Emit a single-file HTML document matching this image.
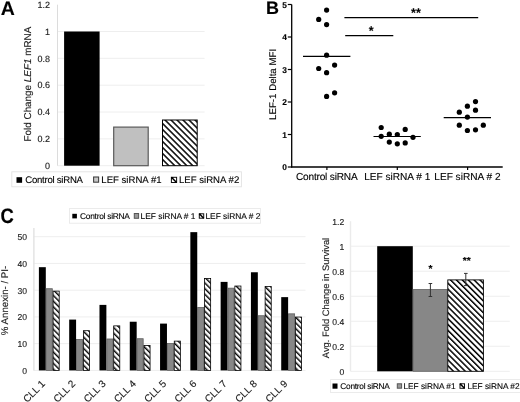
<!DOCTYPE html><html><head><meta charset="utf-8"><style>html,body{margin:0;padding:0;background:#fff;width:520px;height:402px;overflow:hidden}svg{display:block;will-change:transform}text{font-family:"Liberation Sans",sans-serif;text-rendering:geometricPrecision;stroke:#000;stroke-width:0.2px;stroke-opacity:0.6}</style></head><body>
<svg width="520" height="402" viewBox="0 0 520 402">
<defs>
<pattern id="hA" patternUnits="userSpaceOnUse" width="4.24" height="10" patternTransform="translate(2,0) rotate(-45)"><rect x="0" y="0" width="1.5" height="10" fill="#000"/></pattern>
<pattern id="hC" patternUnits="userSpaceOnUse" width="4.0" height="10" patternTransform="rotate(-45)"><rect x="0" y="0" width="1.45" height="10" fill="#000"/></pattern>
<pattern id="hD" patternUnits="userSpaceOnUse" width="4.17" height="10" patternTransform="translate(-1.5,0) rotate(-45)"><rect x="0" y="0" width="1.5" height="10" fill="#000"/></pattern>
<pattern id="hL" patternUnits="userSpaceOnUse" width="2.2" height="10" patternTransform="rotate(-45)"><rect x="0" y="0" width="1.1" height="10" fill="#000"/></pattern>
</defs>
<text x="0.7" y="14.6" font-size="19.5" font-weight="bold" fill="#000">A</text>
<line x1="57.5" y1="165.7" x2="204.6" y2="165.7" stroke="#eeeeee" stroke-width="1"/>
<text x="50" y="168.9" font-size="9" fill="#262626" text-anchor="end">0</text>
<line x1="57.5" y1="138.86" x2="204.6" y2="138.86" stroke="#eeeeee" stroke-width="1"/>
<text x="50" y="142.06" font-size="9" fill="#262626" text-anchor="end">0.2</text>
<line x1="57.5" y1="112.02" x2="204.6" y2="112.02" stroke="#eeeeee" stroke-width="1"/>
<text x="50" y="115.22" font-size="9" fill="#262626" text-anchor="end">0.4</text>
<line x1="57.5" y1="85.18" x2="204.6" y2="85.18" stroke="#eeeeee" stroke-width="1"/>
<text x="50" y="88.38" font-size="9" fill="#262626" text-anchor="end">0.6</text>
<line x1="57.5" y1="58.34" x2="204.6" y2="58.34" stroke="#eeeeee" stroke-width="1"/>
<text x="50" y="61.54" font-size="9" fill="#262626" text-anchor="end">0.8</text>
<line x1="57.5" y1="31.5" x2="204.6" y2="31.5" stroke="#eeeeee" stroke-width="1"/>
<text x="50" y="34.7" font-size="9" fill="#262626" text-anchor="end">1</text>
<text x="50" y="7.86" font-size="9" fill="#262626" text-anchor="end">1.2</text>
<line x1="57.5" y1="4.7" x2="57.5" y2="165.7" stroke="#dcdcdc" stroke-width="1"/>
<rect x="64.1" y="31.5" width="35.5" height="134.2" fill="#000"/>
<rect x="113.7" y="127.1" width="34.5" height="38.6" fill="#c0c0c0" stroke="#5a5a5a" stroke-width="1.2"/>
<rect x="162.5" y="120" width="34.7" height="45.7" fill="#fff"/>
<rect x="162.5" y="120" width="34.7" height="45.7" fill="url(#hA)" stroke="#000" stroke-width="1"/>
<text transform="translate(30.8,84.1) rotate(-90)" font-size="9.9" fill="#262626" text-anchor="middle">Fold Change <tspan font-style="italic">LEF1</tspan> mRNA</text>
<rect x="11.8" y="171.8" width="229.6" height="15" fill="none" stroke="#e2e2e2" stroke-width="0.9"/>
<rect x="16.5" y="177.2" width="5.6" height="5.6" fill="#000"/>
<text x="25.3" y="182.8" font-size="9.6" letter-spacing="-0.26" fill="#000">Control siRNA</text>
<rect x="93.6" y="177" width="5" height="5.2" fill="#c8c8c8" stroke="#444" stroke-width="1.1"/>
<text x="101.3" y="182.8" font-size="9.6" fill="#000">LEF siRNA #1</text>
<rect x="171.4" y="177.3" width="5.2" height="5.2" fill="#fff" stroke="#111" stroke-width="1"/>
<path d="M171.4 177.3 L176.6 182.5" stroke="#000" stroke-width="1.5"/>
<path d="M171.4 177.3 L173.74 177.3 L171.4 179.64000000000001 Z" fill="#000"/>
<text x="179" y="182.8" font-size="9.6" fill="#000">LEF siRNA #2</text>
<text x="265.9" y="13.9" font-size="18" font-weight="bold" fill="#000">B</text>
<line x1="287.8" y1="167" x2="291.7" y2="167" stroke="#000" stroke-width="1.2"/>
<text x="287" y="170.3" font-size="8.4" font-weight="bold" fill="#000" text-anchor="end">0</text>
<line x1="287.8" y1="134.5" x2="291.7" y2="134.5" stroke="#000" stroke-width="1.2"/>
<text x="287" y="137.8" font-size="8.4" font-weight="bold" fill="#000" text-anchor="end">1</text>
<line x1="287.8" y1="102" x2="291.7" y2="102" stroke="#000" stroke-width="1.2"/>
<text x="287" y="105.3" font-size="8.4" font-weight="bold" fill="#000" text-anchor="end">2</text>
<line x1="287.8" y1="69.5" x2="291.7" y2="69.5" stroke="#000" stroke-width="1.2"/>
<text x="287" y="72.8" font-size="8.4" font-weight="bold" fill="#000" text-anchor="end">3</text>
<line x1="287.8" y1="37" x2="291.7" y2="37" stroke="#000" stroke-width="1.2"/>
<text x="287" y="40.3" font-size="8.4" font-weight="bold" fill="#000" text-anchor="end">4</text>
<line x1="287.8" y1="4.5" x2="291.7" y2="4.5" stroke="#000" stroke-width="1.2"/>
<text x="287" y="7.8" font-size="8.4" font-weight="bold" fill="#000" text-anchor="end">5</text>
<line x1="291.7" y1="4.5" x2="291.7" y2="167.6" stroke="#000" stroke-width="1.3"/>
<line x1="291.1" y1="167.0" x2="502.7" y2="167.0" stroke="#000" stroke-width="1.3"/>
<line x1="326.9" y1="167.0" x2="326.9" y2="170.0" stroke="#000" stroke-width="1.2"/>
<line x1="397.3" y1="167.0" x2="397.3" y2="170.0" stroke="#000" stroke-width="1.2"/>
<line x1="467.6" y1="167.0" x2="467.6" y2="170.0" stroke="#000" stroke-width="1.2"/>
<text x="326.7" y="179.9" font-size="10.1" letter-spacing="-0.19" fill="#000" text-anchor="middle">Control siRNA</text>
<text x="397.3" y="179.9" font-size="10.1" fill="#000" text-anchor="middle">LEF siRNA # 1</text>
<text x="467.4" y="179.9" font-size="10.1" fill="#000" text-anchor="middle">LEF siRNA # 2</text>
<text transform="translate(276.4,84.4) rotate(-90)" font-size="9.7" fill="#000" text-anchor="middle">LEF-1 Delta MFI</text>
<circle cx="326.6" cy="10.1" r="2.6" fill="#000"/>
<circle cx="318.7" cy="19.4" r="2.6" fill="#000"/>
<circle cx="326.6" cy="24.6" r="2.6" fill="#000"/>
<circle cx="326.6" cy="55.2" r="2.6" fill="#000"/>
<circle cx="334.6" cy="65.1" r="2.6" fill="#000"/>
<circle cx="318.7" cy="68.5" r="2.6" fill="#000"/>
<circle cx="326.6" cy="72.7" r="2.6" fill="#000"/>
<circle cx="334.6" cy="92.8" r="2.6" fill="#000"/>
<circle cx="326.6" cy="96.4" r="2.6" fill="#000"/>
<circle cx="381.2" cy="127.5" r="2.6" fill="#000"/>
<circle cx="381.2" cy="136.3" r="2.6" fill="#000"/>
<circle cx="389.3" cy="134.2" r="2.6" fill="#000"/>
<circle cx="397.3" cy="134.5" r="2.6" fill="#000"/>
<circle cx="405.2" cy="129.4" r="2.6" fill="#000"/>
<circle cx="413" cy="137.3" r="2.6" fill="#000"/>
<circle cx="389.3" cy="142.1" r="2.6" fill="#000"/>
<circle cx="397.3" cy="143.8" r="2.6" fill="#000"/>
<circle cx="405.2" cy="142.9" r="2.6" fill="#000"/>
<circle cx="475.5" cy="101.6" r="2.6" fill="#000"/>
<circle cx="467.4" cy="106.2" r="2.6" fill="#000"/>
<circle cx="475.5" cy="110.2" r="2.6" fill="#000"/>
<circle cx="459.3" cy="112.2" r="2.6" fill="#000"/>
<circle cx="467.4" cy="117.1" r="2.6" fill="#000"/>
<circle cx="459.3" cy="125.2" r="2.6" fill="#000"/>
<circle cx="483.3" cy="125.2" r="2.6" fill="#000"/>
<circle cx="467.4" cy="130.5" r="2.6" fill="#000"/>
<circle cx="475.5" cy="129.8" r="2.6" fill="#000"/>
<line x1="303" y1="56.4" x2="350.4" y2="56.4" stroke="#000" stroke-width="1.2"/>
<line x1="373.5" y1="136.5" x2="420.8" y2="136.5" stroke="#000" stroke-width="1.2"/>
<line x1="443.7" y1="117.6" x2="491" y2="117.6" stroke="#000" stroke-width="1.2"/>
<line x1="344.4" y1="17.7" x2="478.2" y2="17.7" stroke="#000" stroke-width="1.2"/>
<line x1="345.2" y1="35.6" x2="393.3" y2="35.6" stroke="#000" stroke-width="1.2"/>
<text x="371.2" y="35" font-size="12.6" font-weight="bold" fill="#000" text-anchor="middle">*</text>
<text x="416" y="16.9" font-size="12.6" font-weight="bold" fill="#000" text-anchor="middle">**</text>
<text transform="translate(0.4,222.8) scale(0.97,1.1)" font-size="19" font-weight="bold" fill="#000">C</text>
<line x1="33.7" y1="370.4" x2="305.5" y2="370.4" stroke="#eeeeee" stroke-width="1"/>
<text x="27" y="373.9" font-size="8.6" fill="#262626" text-anchor="end">0</text>
<line x1="33.7" y1="343.66" x2="305.5" y2="343.66" stroke="#eeeeee" stroke-width="1"/>
<text x="27" y="347.16" font-size="8.6" fill="#262626" text-anchor="end">10</text>
<line x1="33.7" y1="316.92" x2="305.5" y2="316.92" stroke="#eeeeee" stroke-width="1"/>
<text x="27" y="320.42" font-size="8.6" fill="#262626" text-anchor="end">20</text>
<line x1="33.7" y1="290.18" x2="305.5" y2="290.18" stroke="#eeeeee" stroke-width="1"/>
<text x="27" y="293.68" font-size="8.6" fill="#262626" text-anchor="end">30</text>
<line x1="33.7" y1="263.44" x2="305.5" y2="263.44" stroke="#eeeeee" stroke-width="1"/>
<text x="27" y="266.94" font-size="8.6" fill="#262626" text-anchor="end">40</text>
<line x1="33.7" y1="236.7" x2="305.5" y2="236.7" stroke="#eeeeee" stroke-width="1"/>
<text x="27" y="240.2" font-size="8.6" fill="#262626" text-anchor="end">50</text>
<line x1="33.9" y1="228" x2="33.9" y2="370.4" stroke="#e2e2e2" stroke-width="1.4"/>
<rect x="38.9" y="267.18" width="6.9" height="103.22" fill="#000"/>
<rect x="46.2" y="288.71" width="6.1000000000000005" height="81.69" fill="#878787" stroke="#5f5f5f" stroke-width="0.8"/>
<rect x="53.1" y="291.11" width="6.1000000000000005" height="79.29" fill="#fff"/>
<rect x="53.1" y="291.11" width="6.1000000000000005" height="79.29" fill="url(#hC)" stroke="#000" stroke-width="0.8"/>
<text transform="translate(45.75,384.4) rotate(-45)" font-size="10" fill="#262626" text-anchor="end">CLL 1</text>
<rect x="69.19" y="319.59" width="6.9" height="50.81" fill="#000"/>
<rect x="76.49" y="339.51" width="6.1000000000000005" height="30.89" fill="#878787" stroke="#5f5f5f" stroke-width="0.8"/>
<rect x="83.39" y="330.69" width="6.1000000000000005" height="39.71" fill="#fff"/>
<rect x="83.39" y="330.69" width="6.1000000000000005" height="39.71" fill="url(#hC)" stroke="#000" stroke-width="0.8"/>
<text transform="translate(76.04,384.4) rotate(-45)" font-size="10" fill="#262626" text-anchor="end">CLL 2</text>
<rect x="99.48" y="304.89" width="6.9" height="65.51" fill="#000"/>
<rect x="106.78" y="338.98" width="6.1000000000000005" height="31.42" fill="#878787" stroke="#5f5f5f" stroke-width="0.8"/>
<rect x="113.68" y="325.88" width="6.1000000000000005" height="44.52" fill="#fff"/>
<rect x="113.68" y="325.88" width="6.1000000000000005" height="44.52" fill="url(#hC)" stroke="#000" stroke-width="0.8"/>
<text transform="translate(106.33,384.4) rotate(-45)" font-size="10" fill="#262626" text-anchor="end">CLL 3</text>
<rect x="129.77" y="321.73" width="6.9" height="48.67" fill="#000"/>
<rect x="137.07" y="338.71" width="6.1000000000000005" height="31.69" fill="#878787" stroke="#5f5f5f" stroke-width="0.8"/>
<rect x="143.97" y="345.4" width="6.1000000000000005" height="25" fill="#fff"/>
<rect x="143.97" y="345.4" width="6.1000000000000005" height="25" fill="url(#hC)" stroke="#000" stroke-width="0.8"/>
<text transform="translate(136.62,384.4) rotate(-45)" font-size="10" fill="#262626" text-anchor="end">CLL 4</text>
<rect x="160.06" y="323.6" width="6.9" height="46.8" fill="#000"/>
<rect x="167.36" y="343.53" width="6.1000000000000005" height="26.87" fill="#878787" stroke="#5f5f5f" stroke-width="0.8"/>
<rect x="174.26" y="341.12" width="6.1000000000000005" height="29.28" fill="#fff"/>
<rect x="174.26" y="341.12" width="6.1000000000000005" height="29.28" fill="url(#hC)" stroke="#000" stroke-width="0.8"/>
<text transform="translate(166.91,384.4) rotate(-45)" font-size="10" fill="#262626" text-anchor="end">CLL 5</text>
<rect x="190.35" y="232.15" width="6.9" height="138.25" fill="#000"/>
<rect x="197.65" y="307.43" width="6.1000000000000005" height="62.97" fill="#878787" stroke="#5f5f5f" stroke-width="0.8"/>
<rect x="204.55" y="278.55" width="6.1000000000000005" height="91.85" fill="#fff"/>
<rect x="204.55" y="278.55" width="6.1000000000000005" height="91.85" fill="url(#hC)" stroke="#000" stroke-width="0.8"/>
<text transform="translate(197.2,384.4) rotate(-45)" font-size="10" fill="#262626" text-anchor="end">CLL 6</text>
<rect x="220.64" y="281.89" width="6.9" height="88.51" fill="#000"/>
<rect x="227.94" y="288.17" width="6.1000000000000005" height="82.23" fill="#878787" stroke="#5f5f5f" stroke-width="0.8"/>
<rect x="234.84" y="286.03" width="6.1000000000000005" height="84.37" fill="#fff"/>
<rect x="234.84" y="286.03" width="6.1000000000000005" height="84.37" fill="url(#hC)" stroke="#000" stroke-width="0.8"/>
<text transform="translate(227.49,384.4) rotate(-45)" font-size="10" fill="#262626" text-anchor="end">CLL 7</text>
<rect x="250.93" y="272.26" width="6.9" height="98.14" fill="#000"/>
<rect x="258.23" y="315.72" width="6.1000000000000005" height="54.68" fill="#878787" stroke="#5f5f5f" stroke-width="0.8"/>
<rect x="265.13" y="286.57" width="6.1000000000000005" height="83.83" fill="#fff"/>
<rect x="265.13" y="286.57" width="6.1000000000000005" height="83.83" fill="url(#hC)" stroke="#000" stroke-width="0.8"/>
<text transform="translate(257.78,384.4) rotate(-45)" font-size="10" fill="#262626" text-anchor="end">CLL 8</text>
<rect x="281.22" y="297.13" width="6.9" height="73.27" fill="#000"/>
<rect x="288.52" y="313.84" width="6.1000000000000005" height="56.56" fill="#878787" stroke="#5f5f5f" stroke-width="0.8"/>
<rect x="295.42" y="317.05" width="6.1000000000000005" height="53.35" fill="#fff"/>
<rect x="295.42" y="317.05" width="6.1000000000000005" height="53.35" fill="url(#hC)" stroke="#000" stroke-width="0.8"/>
<text transform="translate(288.07,384.4) rotate(-45)" font-size="10" fill="#262626" text-anchor="end">CLL 9</text>
<text transform="translate(8.4,300.5) rotate(-90)" font-size="9.7" fill="#262626" text-anchor="middle">% Annexin- / PI-</text>
<rect x="69.4" y="208.6" width="191.2" height="14.6" fill="none" stroke="#e6e6e6" stroke-width="0.8"/>
<rect x="72.3" y="213.8" width="4.6" height="4.6" fill="#000"/>
<text x="80" y="218.6" font-size="8.4" letter-spacing="-0.26" fill="#000">Control siRNA</text>
<rect x="134.3" y="213.5" width="4.3" height="4.8" fill="#999" stroke="#555" stroke-width="1"/>
<text x="140.6" y="218.6" font-size="8.4" fill="#000">LEF siRNA # 1</text>
<rect x="199.3" y="213.8" width="4.4" height="4.4" fill="#fff" stroke="#111" stroke-width="1"/>
<path d="M199.3 213.8 L203.70000000000002 218.20000000000002" stroke="#000" stroke-width="1.5"/>
<path d="M199.3 213.8 L201.28 213.8 L199.3 215.78 Z" fill="#000"/>
<text x="205.4" y="218.6" font-size="8.4" fill="#000">LEF siRNA # 2</text>
<line x1="350.5" y1="371.3" x2="509.8" y2="371.3" stroke="#eeeeee" stroke-width="1"/>
<text x="344.2" y="374.9" font-size="8.6" fill="#262626" text-anchor="end">0</text>
<line x1="350.5" y1="346.28" x2="509.8" y2="346.28" stroke="#eeeeee" stroke-width="1"/>
<text x="344.2" y="349.88" font-size="8.6" fill="#262626" text-anchor="end">0.2</text>
<line x1="350.5" y1="321.26" x2="509.8" y2="321.26" stroke="#eeeeee" stroke-width="1"/>
<text x="344.2" y="324.86" font-size="8.6" fill="#262626" text-anchor="end">0.4</text>
<line x1="350.5" y1="296.24" x2="509.8" y2="296.24" stroke="#eeeeee" stroke-width="1"/>
<text x="344.2" y="299.84" font-size="8.6" fill="#262626" text-anchor="end">0.6</text>
<line x1="350.5" y1="271.22" x2="509.8" y2="271.22" stroke="#eeeeee" stroke-width="1"/>
<text x="344.2" y="274.82" font-size="8.6" fill="#262626" text-anchor="end">0.8</text>
<line x1="350.5" y1="246.2" x2="509.8" y2="246.2" stroke="#eeeeee" stroke-width="1"/>
<text x="344.2" y="249.8" font-size="8.6" fill="#262626" text-anchor="end">1</text>
<text x="344.2" y="224.78" font-size="8.6" fill="#262626" text-anchor="end">1.2</text>
<line x1="350.5" y1="221.2" x2="350.5" y2="371.3" stroke="#ebebeb" stroke-width="1.4"/>
<rect x="377.2" y="246.2" width="35.6" height="125.1" fill="#000"/>
<rect x="413.1" y="289.6" width="34.2" height="81.7" fill="#878787" stroke="#5f5f5f" stroke-width="0.8"/>
<rect x="447.8" y="279.9" width="35.6" height="91.4" fill="#fff"/>
<rect x="447.8" y="279.9" width="35.6" height="91.4" fill="url(#hD)" stroke="#000" stroke-width="0.9"/>
<line x1="430.4" y1="283.5" x2="430.4" y2="296.5" stroke="#333" stroke-width="1"/>
<line x1="428.59999999999997" y1="283.5" x2="432.2" y2="283.5" stroke="#333" stroke-width="1"/>
<line x1="428.59999999999997" y1="296.5" x2="432.2" y2="296.5" stroke="#333" stroke-width="1"/>
<line x1="465.8" y1="273.4" x2="465.8" y2="285.6" stroke="#333" stroke-width="1"/>
<line x1="464.0" y1="273.4" x2="467.6" y2="273.4" stroke="#333" stroke-width="1"/>
<line x1="464.0" y1="285.6" x2="467.6" y2="285.6" stroke="#333" stroke-width="1"/>
<text x="430.4" y="271.8" font-size="10.2" font-weight="bold" fill="#000" text-anchor="middle">*</text>
<text x="466.8" y="264" font-size="10.2" font-weight="bold" fill="#000" text-anchor="middle">**</text>
<text transform="translate(328.6,298) rotate(-90)" font-size="9.35" fill="#262626" text-anchor="middle">Avg. Fold Change in Survival</text>
<rect x="330.6" y="379.6" width="192" height="13" fill="none" stroke="#e6e6e6" stroke-width="0.8"/>
<rect x="332.5" y="383.5" width="5" height="5.2" fill="#000"/>
<text x="340.3" y="388.6" font-size="8.3" letter-spacing="-0.26" fill="#000">Control siRNA</text>
<rect x="397.3" y="383.8" width="4.3" height="4.4" fill="#999" stroke="#555" stroke-width="1"/>
<text x="403.4" y="388.6" font-size="8.3" fill="#000">LEF siRNA #1</text>
<rect x="460" y="383.8" width="4.5" height="4.5" fill="#fff" stroke="#111" stroke-width="1"/>
<path d="M460 383.8 L464.5 388.3" stroke="#000" stroke-width="1.5"/>
<path d="M460 383.8 L462.025 383.8 L460 385.825 Z" fill="#000"/>
<text x="467.4" y="388.6" font-size="8.3" fill="#000">LEF siRNA #2</text>
</svg></body></html>
